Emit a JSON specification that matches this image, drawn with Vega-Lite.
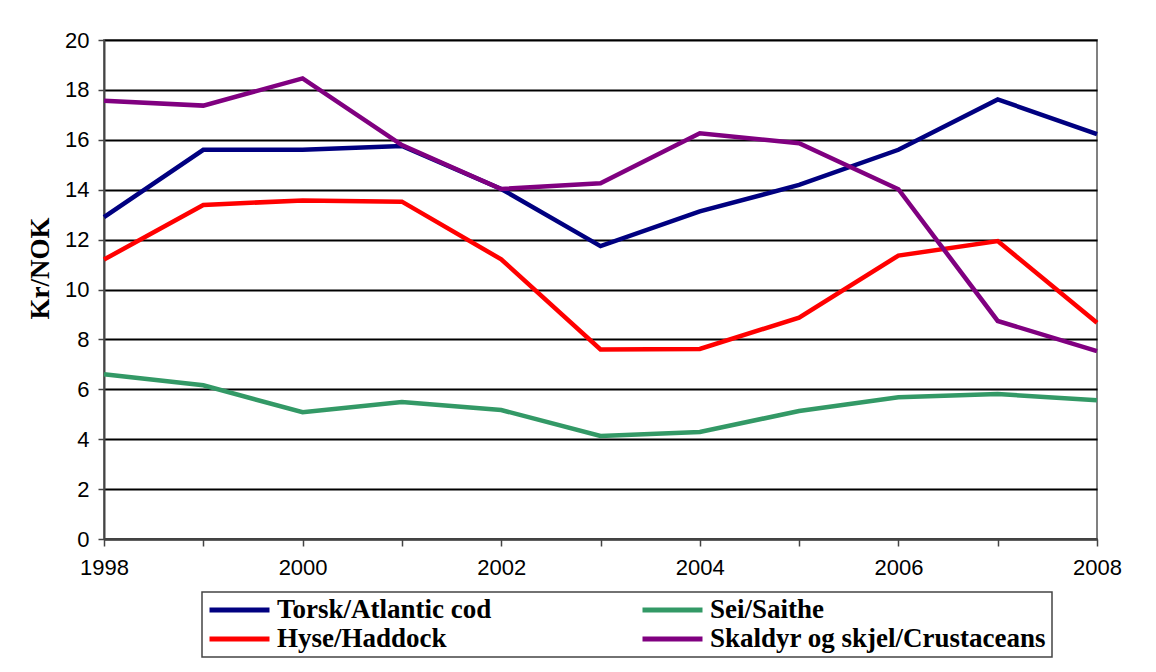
{
  "$schema": "https://vega.github.io/schema/vega-lite/v6.json",
  "width": 993,
  "height": 499,
  "autosize": {"type": "none"},
  "padding": {"left": 104, "top": 40, "right": 59, "bottom": 133},
  "background": "white",
  "data": {
    "values": [
      {"year": 1998, "species": "Torsk/Atlantic cod", "value": 12.9},
      {"year": 1999, "species": "Torsk/Atlantic cod", "value": 15.6},
      {"year": 2000, "species": "Torsk/Atlantic cod", "value": 15.6},
      {"year": 2001, "species": "Torsk/Atlantic cod", "value": 15.75},
      {"year": 2002, "species": "Torsk/Atlantic cod", "value": 14.03},
      {"year": 2003, "species": "Torsk/Atlantic cod", "value": 11.74},
      {"year": 2004, "species": "Torsk/Atlantic cod", "value": 13.13},
      {"year": 2005, "species": "Torsk/Atlantic cod", "value": 14.19},
      {"year": 2006, "species": "Torsk/Atlantic cod", "value": 15.6},
      {"year": 2007, "species": "Torsk/Atlantic cod", "value": 17.62},
      {"year": 2008, "species": "Torsk/Atlantic cod", "value": 16.23},
      {"year": 1998, "species": "Sei/Saithe", "value": 6.6},
      {"year": 1999, "species": "Sei/Saithe", "value": 6.16},
      {"year": 2000, "species": "Sei/Saithe", "value": 5.08},
      {"year": 2001, "species": "Sei/Saithe", "value": 5.49},
      {"year": 2002, "species": "Sei/Saithe", "value": 5.17},
      {"year": 2003, "species": "Sei/Saithe", "value": 4.13},
      {"year": 2004, "species": "Sei/Saithe", "value": 4.29},
      {"year": 2005, "species": "Sei/Saithe", "value": 5.13},
      {"year": 2006, "species": "Sei/Saithe", "value": 5.68},
      {"year": 2007, "species": "Sei/Saithe", "value": 5.81},
      {"year": 2008, "species": "Sei/Saithe", "value": 5.56},
      {"year": 1998, "species": "Hyse/Haddock", "value": 11.2},
      {"year": 1999, "species": "Hyse/Haddock", "value": 13.39},
      {"year": 2000, "species": "Hyse/Haddock", "value": 13.57},
      {"year": 2001, "species": "Hyse/Haddock", "value": 13.52},
      {"year": 2002, "species": "Hyse/Haddock", "value": 11.21},
      {"year": 2003, "species": "Hyse/Haddock", "value": 7.6},
      {"year": 2004, "species": "Hyse/Haddock", "value": 7.62},
      {"year": 2005, "species": "Hyse/Haddock", "value": 8.87},
      {"year": 2006, "species": "Hyse/Haddock", "value": 11.36},
      {"year": 2007, "species": "Hyse/Haddock", "value": 11.94},
      {"year": 2008, "species": "Hyse/Haddock", "value": 8.67},
      {"year": 1998, "species": "Skaldyr og skjel/Crustaceans", "value": 17.57},
      {"year": 1999, "species": "Skaldyr og skjel/Crustaceans", "value": 17.37},
      {"year": 2000, "species": "Skaldyr og skjel/Crustaceans", "value": 18.46},
      {"year": 2001, "species": "Skaldyr og skjel/Crustaceans", "value": 15.79},
      {"year": 2002, "species": "Skaldyr og skjel/Crustaceans", "value": 14.03},
      {"year": 2003, "species": "Skaldyr og skjel/Crustaceans", "value": 14.26},
      {"year": 2004, "species": "Skaldyr og skjel/Crustaceans", "value": 16.26},
      {"year": 2005, "species": "Skaldyr og skjel/Crustaceans", "value": 15.86},
      {"year": 2006, "species": "Skaldyr og skjel/Crustaceans", "value": 14.02},
      {"year": 2007, "species": "Skaldyr og skjel/Crustaceans", "value": 8.74},
      {"year": 2008, "species": "Skaldyr og skjel/Crustaceans", "value": 7.53}
    ]
  },
  "mark": {"type": "line", "strokeWidth": 4.5, "strokeJoin": "miter", "clip": false},
  "encoding": {
    "x": {
      "field": "year",
      "type": "quantitative",
      "scale": {"domain": [1998, 2008], "nice": false, "zero": false},
      "axis": {
        "title": null,
        "values": [1998, 1999, 2000, 2001, 2002, 2003, 2004, 2005, 2006, 2007, 2008],
        "labelExpr": "datum.value % 2 == 0 ? datum.label : ''",
        "format": "d",
        "grid": false,
        "domainColor": "#444444",
        "domainWidth": 2,
        "tickColor": "#444444",
        "tickWidth": 1.5,
        "tickSize": 7,
        "labelPadding": 11,
        "labelFont": "Liberation Sans",
        "labelFontSize": 22,
        "labelColor": "black",
        "labelFlush": false,
        "labelOverlap": false
      }
    },
    "y": {
      "field": "value",
      "type": "quantitative",
      "scale": {"domain": [0, 20], "nice": false},
      "axis": {
        "title": "Kr/NOK",
        "titleFont": "Liberation Serif",
        "titleFontWeight": "bold",
        "titleFontSize": 27,
        "titleColor": "black",
        "titleAngle": -90,
        "titleBaseline": "alphabetic",
        "titleAlign": "center",
        "titleX": -55.5,
        "titleY": 228,
        "values": [0, 2, 4, 6, 8, 10, 12, 14, 16, 18, 20],
        "grid": true,
        "gridColor": "black",
        "gridWidth": 2,
        "domainColor": "#444444",
        "domainWidth": 2,
        "tickColor": "#444444",
        "tickWidth": 1.5,
        "tickSize": 6,
        "labelPadding": 9,
        "labelFont": "Liberation Sans",
        "labelFontSize": 22,
        "labelColor": "black"
      }
    },
    "color": {
      "field": "species",
      "type": "nominal",
      "scale": {
        "domain": ["Torsk/Atlantic cod", "Sei/Saithe", "Hyse/Haddock", "Skaldyr og skjel/Crustaceans"],
        "range": ["#000080", "#339966", "#FF0000", "#800080"]
      },
      "legend": {
        "title": null,
        "orient": "none",
        "legendX": 98,
        "legendY": 552,
        "direction": "horizontal",
        "columns": 2,
        "columnPadding": 148,
        "rowPadding": 2,
        "clipHeight": 26,
        "symbolType": "stroke",
        "symbolSize": 3600,
        "symbolStrokeWidth": 5,
        "labelOffset": 5,
        "labelFont": "Liberation Serif",
        "labelFontWeight": "bold",
        "labelFontSize": 27,
        "labelColor": "black",
        "labelLimit": 500,
        "padding": 5,
        "strokeColor": "#444444",
        "fillColor": "white"
      }
    }
  },
  "config": {
    "view": {"stroke": "#808080", "strokeWidth": 2},
    "legend": {"strokeWidth": 1.5}
  }
}
